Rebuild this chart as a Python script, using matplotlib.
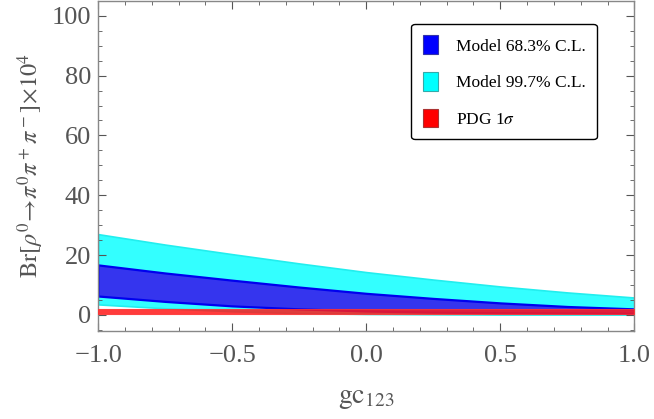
import matplotlib
matplotlib.use("Agg")
import matplotlib.pyplot as plt
from matplotlib.patches import Patch
from matplotlib.ticker import MultipleLocator

# data
x = [-1.0, -0.75, -0.5, -0.25, 0.0, 0.25, 0.5, 0.75, 1.0]
cyan_upper = [27.0, 23.5, 20.3, 17.2, 14.3, 11.8, 9.5, 7.5, 5.8]
cyan_lower = [3.5, 2.2, 1.2, 0.6, 0.3, 0.2, 0.1, 0.1, 0.1]
blue_upper = [16.7, 14.0, 11.6, 9.3, 7.2, 5.5, 4.0, 2.8, 2.0]
blue_lower = [6.3, 4.5, 3.0, 2.0, 1.3, 0.9, 0.7, 0.6, 0.5]
pdg_low, pdg_high = 0.2, 2.0

labels = ["Model 68.3% C.L.", "Model 99.7% C.L.", r"PDG 1$\sigma$"]
xticks = [-1.0, -0.5, 0.0, 0.5, 1.0]
yticks = [0, 20, 40, 60, 80, 100]

plt.rcParams['font.family'] = ['Liberation Serif', 'DejaVu Serif']
plt.rcParams['mathtext.fontset'] = 'stix'

gray = '#555555'
fig = plt.figure(figsize=(6.54, 4.19), dpi=100)
ax = fig.add_axes([0.150, 0.210, 0.820, 0.788])

ax.fill_between(x, cyan_lower, cyan_upper, facecolor='#33FFFF', edgecolor='#22EEEE', lw=1.2, zorder=1)
ax.fill_between(x, blue_lower, blue_upper, facecolor='#3535EE', edgecolor='#0000EE', lw=1.6, zorder=2)
ax.fill_between(x, [pdg_low]*len(x), [pdg_high]*len(x), facecolor='#FF1A1A', edgecolor='#FF3333',
                lw=0.8, alpha=0.85, zorder=3)

ax.set_xlim(-1.0, 1.0)
ax.set_ylim(-5.4, 105)
ax.set_xticks(xticks)
ax.set_xticklabels([f"{t:.1f}".replace('-', '\u2212') for t in xticks])
ax.set_yticks(yticks)
ax.xaxis.set_minor_locator(MultipleLocator(0.1))
ax.yaxis.set_minor_locator(MultipleLocator(5))
ax.tick_params(which='both', direction='in', top=True, right=True, colors=gray,
               labelcolor=gray, labelsize=19)
ax.tick_params(which='major', length=6, width=0.8)
ax.tick_params(which='minor', length=3, width=0.6)
ax.tick_params(axis='x', which='major', pad=10)
ax.tick_params(axis='y', which='major', pad=5)
for s in ax.spines.values():
    s.set_color('#888888')
    s.set_linewidth(1.0)

ax.set_xlabel(r'$\mathrm{gc}_{123}$', fontsize=20, color=gray, labelpad=14)
ax.set_ylabel(r'$\mathrm{Br}[\rho^0\!\rightarrow\!\pi^0\pi^+\pi^-]\!\times\!10^4$', fontsize=17.5,
              color=gray, labelpad=4)

handles = [Patch(facecolor='#0000FF', edgecolor='#3333AA', lw=0.8),
           Patch(facecolor='#00FFFF', edgecolor='#33AAAA', lw=0.8),
           Patch(facecolor='#FF0000', edgecolor='#AA3333', lw=0.8)]
leg = ax.legend(handles, labels, loc='upper left', bbox_to_anchor=(0.584, 0.93),
                borderaxespad=0,
                fontsize=12.5, frameon=True, fancybox=True, edgecolor='black',
                handlelength=0.9, handleheight=1.3, handletextpad=1.0, labelspacing=1.0,
                borderpad=0.65, framealpha=1)
leg.get_frame().set_linewidth(1.0)

fig.savefig('out.png', dpi=100)
